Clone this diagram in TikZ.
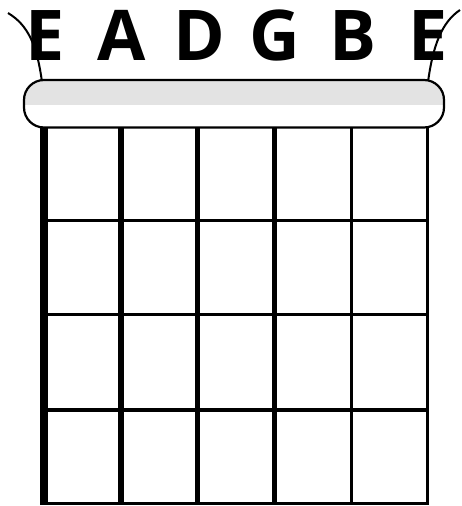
\documentclass[tikz,border=0pt]{standalone}
\usepackage{fontspec}
\setmainfont{Open Sans}
\begin{document}
\begin{tikzpicture}[x=1pt,y=-1pt,
  fret/.style={line width=3.3pt},
  tail/.style={line width=2pt},
  letter/.style={anchor=base,inner sep=0pt,font=\fontsize{70}{70}\selectfont\bfseries}]
\useasboundingbox (0,0) rectangle (461,506);
% string tails above the nut
\draw[tail] (42,82) .. controls (37,45) and (28,25) .. (8,13);
\draw[tail] (428,82) .. controls (433,45) and (442,22) .. (460,10);
% letters
\node[letter] (e6) at (45,60) {E};
\node[letter] (a5) at (122,60) {A};
\node[letter] (d4) at (199.5,60) {D};
\node[letter] (g3) at (274.5,60) {G};
\node[letter] (b2) at (353,60) {B};
\node[letter] (e1) at (428,60) {E};
% nut
\fill[white,rounded corners=20pt] (24,80) rectangle (444,127.5);
\begin{scope}
\clip[rounded corners=20pt] (24,80) rectangle (444,127.5);
\fill[black!11] (20,80) rectangle (450,105);
\end{scope}
\draw[line width=2.2pt,rounded corners=20pt] (24,80) rectangle (444,127.5);
% frets
\foreach \y in {220.5,314.5,410,503.5} \draw[fret] (41,\y) -- (428.5,\y);
% strings
\draw[line width=7.3pt] (44,127) -- (44,505.2);
\draw[line width=6pt] (120.7,127) -- (120.7,505.2);
\draw[line width=5pt] (197.5,127) -- (197.5,505.2);
\draw[line width=4.2pt] (274.5,127) -- (274.5,505.2);
\draw[line width=3.3pt] (351.7,127) -- (351.7,505.2);
\draw[line width=2.8pt] (427.7,127) -- (427.7,505.2);
\end{tikzpicture}
\end{document}
